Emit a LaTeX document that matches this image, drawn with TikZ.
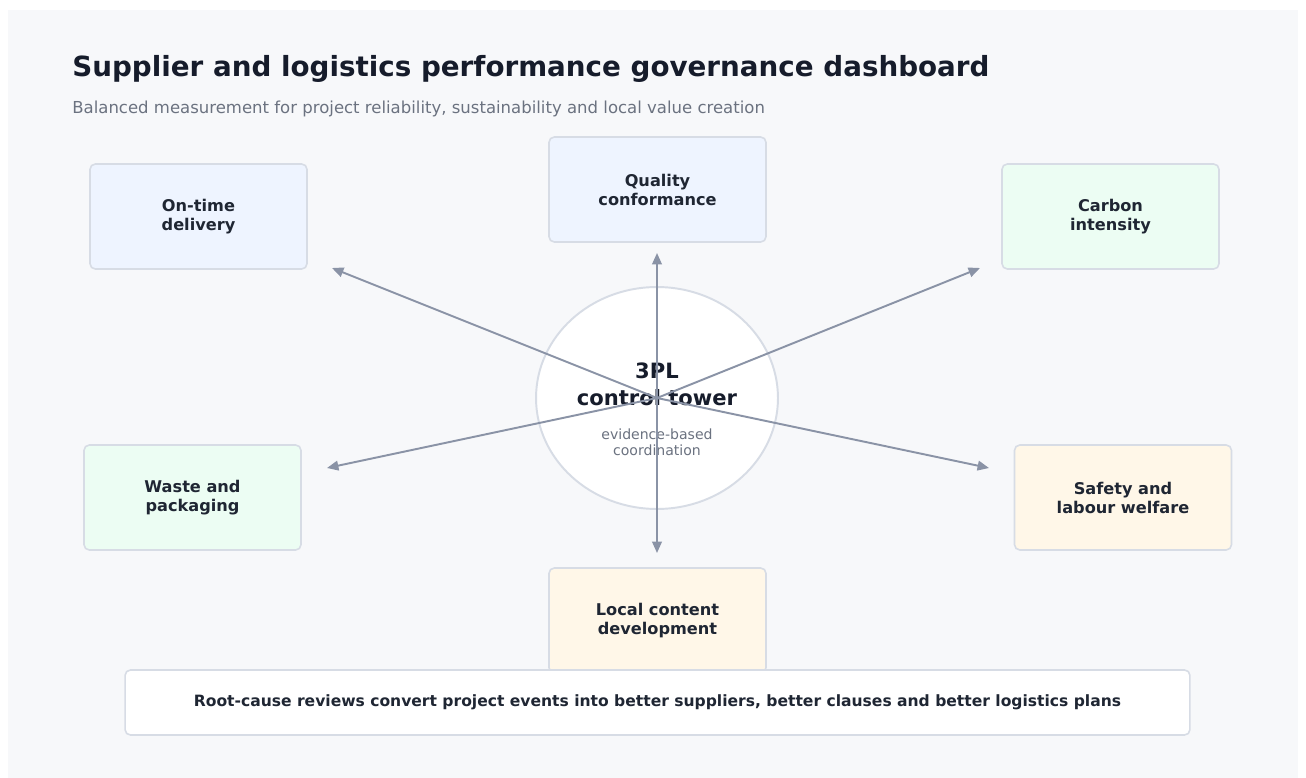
\documentclass[tikz,border=0pt]{standalone}
\usepackage{fontspec}
\setmainfont{DejaVu Sans}
\usepackage{tikz}
\usetikzlibrary{arrows.meta}
\usetikzlibrary{shapes.geometric}

\definecolor{panel}{HTML}{F7F8FA}
\definecolor{ink}{HTML}{161C2B}
\definecolor{boxink}{HTML}{1F2633}
\definecolor{muted}{HTML}{6B7280}
\definecolor{edge}{HTML}{D7DCE5}
\definecolor{spokegray}{HTML}{8A93A6}
\definecolor{kpiblue}{HTML}{EEF4FF}
\definecolor{kpigreen}{HTML}{ECFDF3}
\definecolor{kpisand}{HTML}{FFF7E8}

\tikzset{>={Triangle[length=6.5pt,width=5.5pt]},
  kpi/.style={draw=edge,line width=0.9pt,rounded corners=3pt,align=center,
    minimum width=4.34cm,minimum height=2.1cm,text=boxink,
    font=\fontsize{9.2}{10.8}\selectfont\bfseries},
  hub/.style={ellipse,draw=edge,fill=white,line width=1.1pt,
    minimum width=4.84cm,minimum height=4.44cm},
  spoke/.style={->,draw=spokegray,line width=1.1pt}}

\begin{document}
\begin{tikzpicture}[x=0.02cm,y=-0.02cm]

  \useasboundingbox (0,0) rectangle (1306,778);
  \fill [panel] (8,10) rectangle (1298,778);

  \node [anchor=base west,inner sep=0pt,text=ink,font=\fontsize{15.8}{18}\selectfont\bfseries]
    (title) at (72,76) {Supplier and logistics performance governance dashboard};
  \node [anchor=base west,inner sep=0pt,text=muted,font=\fontsize{9.4}{11}\selectfont]
    (subtitle) at (72,113) {Balanced measurement for project reliability, sustainability and local value creation};

  % indicator boxes
  \node [kpi,fill=kpiblue] (ontime) at (198.5,216.5) {On-time\\delivery};
  \node [kpi,fill=kpiblue] (quality) at (657.5,189.5) {Quality\\conformance};
  \node [kpi,fill=kpigreen] (carbon) at (1110.5,216.5) {Carbon\\intensity};
  \node [kpi,fill=kpigreen] (waste) at (192.5,497.5) {Waste and\\packaging};
  \node [kpi,fill=kpisand] (safety) at (1123,497.5) {Safety and\\labour welfare};
  \node [kpi,fill=kpisand] (local) at (657.5,620.5) {Local content\\development};

  \node [kpi,fill=white,minimum width=21.3cm,minimum height=1.3cm,font=\fontsize{8.85}{10.8}\selectfont\bfseries]
    (review) at (657.5,702.5) {Root-cause reviews convert project events into better suppliers, better clauses and better logistics plans};

  % control tower
  \node [hub] (tower) at (657,398) {};
  \node [align=center,text=ink,font=\fontsize{12}{15.3}\selectfont\bfseries]
    (towername) at (657,384) {3PL\\control tower};
  \node [align=center,text=muted,font=\fontsize{8}{9.1}\selectfont]
    (towernote) at (657,442) {evidence-based\\coordination};

  \coordinate (toOntime) at (332,268);
  \coordinate (toQuality) at (657,253);
  \coordinate (toCarbon) at (980,268);
  \coordinate (toWaste) at (327,468);
  \coordinate (toSafety) at (989,468);
  \coordinate (toLocal) at (657,553);

  \draw [spoke] (tower.center) -- (toOntime);
  \draw [spoke] (tower.center) -- (toQuality);
  \draw [spoke] (tower.center) -- (toCarbon);
  \draw [spoke] (tower.center) -- (toWaste);
  \draw [spoke] (tower.center) -- (toSafety);
  \draw [spoke] (tower.center) -- (toLocal);

\end{tikzpicture}
\end{document}
